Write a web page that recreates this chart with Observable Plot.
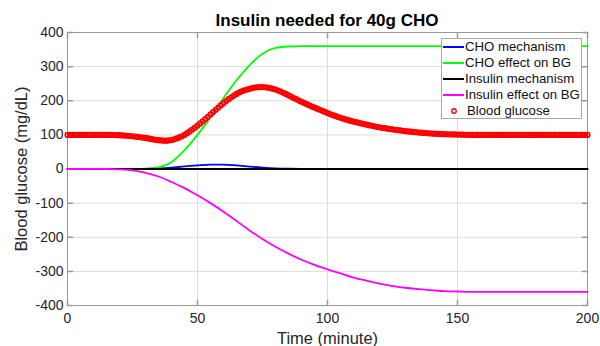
<!DOCTYPE html>
<html>
<head>
<meta charset="utf-8">
<script src="https://cdn.jsdelivr.net/npm/d3@7"></script>
<script src="https://cdn.jsdelivr.net/npm/@observablehq/plot@0.6"></script>
<style>
  html, body { margin: 0; padding: 0; background: white; }
  #wrap { position: relative; width: 600px; height: 346px; font-family: "Liberation Sans", Arial, sans-serif; }
  #title { box-sizing: border-box; height: 26px; padding-top: 11px; padding-left: 54px; line-height: 19px; font-size: 17px; font-weight: bold; text-align: center; color: #000; overflow: visible; white-space: nowrap; }
  #legend { position: absolute; left: 441px; top: 38px; width: 141px; height: 81px; box-sizing: border-box; border: 1px solid #a8a8a8; background: white; font-size: 13.2px; color: #111; }
  .row { position: absolute; left: 0; height: 16px; line-height: 16px; white-space: nowrap; }
  .row svg { position: absolute; left: 1px; top: 0; }
  .row span { position: absolute; left: 23px; top: 0; }
</style>
</head>
<body>
<div id="wrap">
  <div id="title">Insulin needed for 40g CHO</div>
  <div id="chart"></div>
  <div id="legend"></div>
</div>
<script>
// ---- data ----
const xTicks = [0, 50, 100, 150, 200];
const yTicks = [-400, -300, -200, -100, 0, 100, 200, 300, 400];

const minutes = [0, 5, 10, 15, 20, 25, 30, 35, 40, 45, 50, 55, 60, 65, 70, 75, 80, 85, 90, 95, 100,
  105, 110, 115, 120, 125, 130, 135, 140, 145, 150, 155, 160, 165, 170, 175, 180, 185, 190, 195, 200];

const choMechanism = [0, 0, 0, 0, 0, 0, 0.3, 1.5, 4, 7.5, 10.5, 12.8, 12.8, 10.5, 7, 4, 1.8, 0.7, 0.2, 0, 0,
  0, 0, 0, 0, 0, 0, 0, 0, 0, 0, 0, 0, 0, 0, 0, 0, 0, 0, 0, 0];

const choEffect = [0, 0, 0, 0, 0, 0, 1, 5, 20, 55, 100, 152, 208, 260, 304, 338, 355, 359, 360, 360, 360,
  360, 360, 360, 360, 360, 360, 360, 360, 360, 360, 360, 360, 360, 360, 360, 360, 360, 360, 360, 360];

const insulinMechanism = [0, 0, 0, 0, 0, 0, 0, 0, 0, 0, 0, 0, 0, 0, 0, 0, 0, 0, 0, 0, 0,
  0, 0, 0, 0, 0, 0, 0, 0, 0, 0, 0, 0, 0, 0, 0, 0, 0, 0, 0, 0];

const insulinEffect = [0, 0, 0, 0, -1, -4, -11, -22, -38, -56, -77, -100, -125, -152, -180, -205, -228, -248, -266, -281, -294,
  -306, -318, -327, -336, -343, -348, -352, -355, -358, -359, -360, -360, -360, -360, -360, -360, -360, -360, -360, -360];

// blood glucose, one reading per minute (0..200)
const bloodGlucose = [
  100, 100, 100, 100, 100, 100, 100, 100, 100, 100,
  100, 100, 100, 100, 100, 100, 100, 99.8, 99.6, 99.3,
  99, 98.5, 98, 97.4, 96.7, 96, 95, 94, 93, 92,
  91, 89.5, 88, 86.8, 85.5, 84.5, 83.6, 83, 83, 83.6,
  85, 87, 89.5, 92.5, 96, 100, 105, 110, 115.5, 121,
  127, 133.5, 140, 146.5, 153, 160, 167, 173.5, 180, 186.5,
  193, 199, 204.5, 210, 215, 220, 224, 227.5, 230.5, 233,
  235, 237, 238.5, 239.5, 240, 240, 239.5, 238.5, 237, 235,
  233, 230, 227, 223.5, 220, 216, 212, 208, 204.5, 200.5,
  197, 193.5, 190, 186.5, 183, 180, 176.8, 173.6, 170.4, 167.2,
  164, 161, 158.2, 155.5, 152.7, 150, 147.7, 145.4, 143.2, 141,
  139, 137.2, 135.4, 133.6, 131.8, 130, 128.4, 126.8, 125.2, 123.6,
  122, 120.8, 119.6, 118.4, 117.2, 116, 115, 114, 113, 112,
  111, 110.2, 109.4, 108.6, 107.8, 107, 106.4, 105.8, 105.2, 104.6,
  104, 103.6, 103.2, 102.8, 102.4, 102, 101.8, 101.6, 101.4, 101.2,
  101, 100.8, 100.6, 100.4, 100.2, 100.1, 100, 100, 100, 100,
  100, 100, 100, 100, 100, 100, 100, 100, 100, 100,
  100, 100, 100, 100, 100, 100, 100, 100, 100, 100,
  100, 100, 100, 100, 100, 100, 100, 100, 100, 100,
  100, 100, 100, 100, 100, 100, 100, 100, 100, 100,
  100
];

const seriesNames = ["CHO mechanism", "CHO effect on BG", "Insulin mechanism", "Insulin effect on BG", "Blood glucose"];
const seriesColors = ["#0000ff", "#00ff00", "#000000", "#ff00ff", "#ff0000"];

// ---- build tables ----
const lineSeries = [choMechanism, choEffect, insulinMechanism, insulinEffect];
const lineData = lineSeries.flatMap((vals, s) => vals.map((v, i) => ({t: minutes[i], v, s: seriesNames[s]})));
const bgData = bloodGlucose.map((v, i) => ({t: i, v}));

const tickShape = {draw(ctx, l) { ctx.moveTo(0, 0); ctx.lineTo(0, -l); }};
const axisGray = "#9a9a9a";
const textGray = "#262626";
const fmt = d => String(d);

const chart = Plot.plot({
  width: 600,
  height: 320,
  marginTop: 6,
  marginBottom: 41,
  marginLeft: 67,
  marginRight: 13,
  style: {background: "transparent", fontFamily: "'Liberation Sans', Arial, sans-serif", overflow: "visible"},
  x: {domain: [0, 200], ticks: xTicks, label: null},
  y: {domain: [-400, 400], ticks: yTicks, label: null},
  marks: [
    Plot.gridX(xTicks, {stroke: "#dcdcdc", strokeOpacity: 1}),
    Plot.gridY(yTicks, {stroke: "#dcdcdc", strokeOpacity: 1}),
    Plot.frame({stroke: axisGray}),
    Plot.vector(xTicks, {x: d => d, frameAnchor: "bottom", length: 5, rotate: 0, anchor: "start", shape: tickShape, stroke: axisGray}),
    Plot.vector(xTicks, {x: d => d, frameAnchor: "top", length: 5, rotate: 180, anchor: "start", shape: tickShape, stroke: axisGray}),
    Plot.vector(yTicks, {y: d => d, frameAnchor: "left", length: 5, rotate: 90, anchor: "start", shape: tickShape, stroke: axisGray}),
    Plot.vector(yTicks, {y: d => d, frameAnchor: "right", length: 5, rotate: -90, anchor: "start", shape: tickShape, stroke: axisGray}),
    Plot.axisX(xTicks, {tickSize: 0, tickPadding: 8, fontSize: 14, color: textGray, label: null, tickFormat: fmt}),
    Plot.axisY(yTicks, {tickSize: 0, tickPadding: 4, fontSize: 14, color: textGray, label: null, tickFormat: fmt}),
    Plot.text(["Time (minute)"], {frameAnchor: "bottom", dy: 33, lineAnchor: "middle", textAnchor: "middle", fontSize: 16.5, fill: textGray}),
    Plot.text(["Blood glucose (mg/dL)"], {frameAnchor: "left", dx: -46, rotate: -90, lineAnchor: "middle", textAnchor: "middle", fontSize: 16.5, fill: textGray}),
    Plot.line(lineData, {x: "t", y: "v", z: "s", stroke: "s", strokeWidth: 1.8, curve: "monotone-x"}),
    Plot.dot(bgData, {x: "t", y: "v", r: 2.2, stroke: seriesColors[4], strokeWidth: 1.8, fill: "none"})
  ],
  color: {domain: seriesNames, range: seriesColors}
});
document.getElementById("chart").appendChild(chart);

// ---- legend ----
const legend = document.getElementById("legend");
seriesNames.forEach((name, i) => {
  const row = document.createElement("div");
  row.className = "row";
  row.style.top = (-0.5 + i * 16) + "px";
  const sw = i < 4
    ? `<svg width="21" height="16"><line x1="0" x2="21" y1="8" y2="8" stroke="${seriesColors[i]}" stroke-width="2"/></svg>`
    : `<svg width="21" height="16"><circle cx="11" cy="8" r="2.2" fill="none" stroke="${seriesColors[i]}" stroke-width="1.4"/></svg>`;
  row.innerHTML = sw + `<span${i === 4 ? ' style="left:25px"' : ''}>${name}</span>`;
  legend.appendChild(row);
});
</script>
</body>
</html>
